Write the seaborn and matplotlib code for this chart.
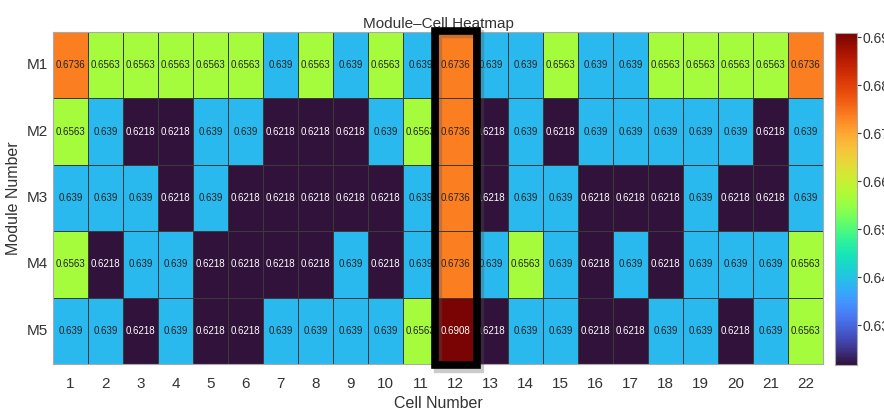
import numpy as np
import pandas as pd
import matplotlib
matplotlib.use("Agg")
import matplotlib.pyplot as plt
from matplotlib.patches import Rectangle
import seaborn as sns

modules = ["M1", "M2", "M3", "M4", "M5"]
cells = list(range(1, 23))

m1 = [0.6736, 0.6563, 0.6563, 0.6563, 0.6563, 0.6563, 0.639, 0.6563, 0.639, 0.6563, 0.639,
      0.6736, 0.639, 0.639, 0.6563, 0.639, 0.639, 0.6563, 0.6563, 0.6563, 0.6563, 0.6736]
m2 = [0.6563, 0.639, 0.6218, 0.6218, 0.639, 0.639, 0.6218, 0.6218, 0.6218, 0.639, 0.6563,
      0.6736, 0.6218, 0.639, 0.6218, 0.639, 0.639, 0.639, 0.639, 0.639, 0.6218, 0.639]
m3 = [0.639, 0.639, 0.639, 0.6218, 0.639, 0.6218, 0.6218, 0.6218, 0.6218, 0.6218, 0.639,
      0.6736, 0.6218, 0.639, 0.639, 0.6218, 0.6218, 0.6218, 0.639, 0.6218, 0.6218, 0.639]
m4 = [0.6563, 0.6218, 0.639, 0.639, 0.6218, 0.6218, 0.6218, 0.6218, 0.639, 0.6218, 0.639,
      0.6736, 0.639, 0.6563, 0.639, 0.6218, 0.639, 0.6218, 0.639, 0.639, 0.639, 0.6563]
m5 = [0.639, 0.639, 0.6218, 0.639, 0.6218, 0.6218, 0.639, 0.639, 0.639, 0.639, 0.6563,
      0.6908, 0.6218, 0.639, 0.639, 0.6218, 0.6218, 0.639, 0.639, 0.6218, 0.639, 0.6563]
cbar_ticks = [0.63, 0.64, 0.65, 0.66, 0.67, 0.68, 0.69]
highlight_cell = 12

df = pd.DataFrame([m1, m2, m3, m4, m5], index=modules, columns=cells)

sns.set_style("white")
plt.rcParams["font.family"] = ["Liberation Sans", "DejaVu Sans"]
narrow = ["Liberation Sans Narrow", "Liberation Sans", "DejaVu Sans"]

fig = plt.figure(figsize=(8.84, 4.16), dpi=100)
ax = fig.add_axes([0.060, 0.125, 0.871, 0.798])
cax = fig.add_axes([0.9446, 0.123, 0.0249, 0.797])

vals = df.values
sns.heatmap(df, ax=ax, cbar_ax=cax, cmap="turbo", vmin=vals.min(), vmax=vals.max(),
            linewidths=0.6, linecolor="#3a3a3a", annot=False)

# annotations: white on dark cells, dark text otherwise
for i in range(vals.shape[0]):
    for j in range(vals.shape[1]):
        v = vals[i, j]
        col = "white" if (v < 0.63 or v > 0.685) else "#222222"
        ax.text(j + 0.5, i + 0.5, f"{v:.4f}".rstrip("0"), ha="center", va="center",
                fontsize=7, color=col, family=narrow)

# highlight box around column 12 (with a soft drop shadow)
j = highlight_cell - 1
ax.add_patch(Rectangle((j - 0.1 + 0.09, -0.02 + 0.05), 1.21, 5.04, fill=False, lw=6,
                       ec="#555555", alpha=0.3, clip_on=False, zorder=4))
ax.add_patch(Rectangle((j - 0.1, -0.02), 1.21, 5.04, fill=False, lw=5.5, ec="black",
                       clip_on=False, zorder=5))

ax.set_title("Module\u2013Cell Heatmap", fontsize=11, color="#333333", pad=3)
ax.set_xlabel("Cell Number", fontsize=11.5, color="#333333", labelpad=4)
ax.set_ylabel("Module Number", fontsize=11.5, color="#333333", labelpad=4)
ax.tick_params(axis="both", labelsize=11, colors="#333333", length=0)
ax.tick_params(axis="x", pad=9)
ax.tick_params(axis="y", rotation=0)
for s in ax.spines.values():
    s.set_visible(True)
    s.set_color("#aaaaaa")
    s.set_linewidth(0.8)

cax.set_yticks(cbar_ticks)
cax.tick_params(labelsize=10, colors="#333333", length=3, pad=1)
cax.set_yticklabels([f"{t:.2f}" for t in cbar_ticks], fontsize=10)
for s in cax.spines.values():
    s.set_visible(True)
    s.set_color("#aaaaaa")

fig.savefig("out.png", dpi=100)
